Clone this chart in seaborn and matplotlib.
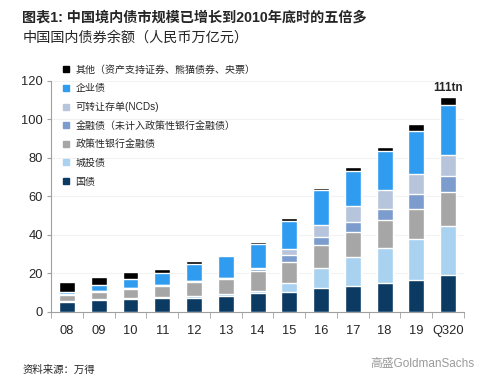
import numpy as np
import pandas as pd
import matplotlib
matplotlib.use('Agg')
import matplotlib.pyplot as plt
from matplotlib.lines import Line2D
import seaborn as sns

years = ['08', '09', '10', '11', '12', '13', '14', '15', '16', '17', '18', '19', 'Q320']

# 人民币万亿元, bottom to top
guozhai = [5.2, 6.1, 6.6, 7.1, 7.5, 8.5, 9.6, 10.6, 12.2, 13.5, 14.8, 16.7, 19.0]
chengtou = [0.3, 0.4, 0.5, 0.7, 0.7, 0.9, 1.2, 4.7, 10.7, 14.8, 18.2, 21.3, 25.6]
zhengce = [3.3, 4.0, 4.9, 5.6, 7.3, 7.8, 10.5, 10.9, 11.7, 13.2, 14.6, 15.6, 17.7]
jinrong = [0.3, 0.3, 0.5, 0.5, 0.5, 0.5, 0.8, 3.3, 4.3, 5.2, 5.9, 7.5, 8.4]
ncd = [0.0, 0.0, 0.0, 0.0, 0.0, 0.0, 0.6, 3.3, 6.4, 8.4, 9.9, 10.6, 10.9]
qiye = [1.1, 3.3, 4.5, 6.4, 8.9, 11.3, 12.6, 14.6, 17.9, 18.3, 20.3, 22.1, 26.1]
qita = [5.6, 4.0, 3.9, 1.9, 1.4, 0.5, 0.8, 1.2, 1.4, 1.8, 2.2, 3.8, 4.0]

names = ['国债', '城投债', '政策性银行金融债', '金融债（未计入政策性银行金融债）',
         '可转让存单(NCDs)', '企业债', '其他（资产支持证券、熊猫债券、央票）']
colors = ['#0b3a63', '#a9d1f0', '#a6a6a6', '#7b9ccc', '#b6c4dc', '#2f9cef', '#000000']
series = [guozhai, chengtou, zhengce, jinrong, ncd, qiye, qita]

sns.set_style('white')
plt.rcParams['font.family'] = ['Liberation Sans', 'Noto Sans CJK SC', 'DejaVu Sans']

fig = plt.figure(figsize=(4.92, 3.89), dpi=100)
ax = fig.add_axes([0.104, 0.198, 0.839, 0.594])

cum = np.cumsum(np.array(series), axis=0)
df = pd.DataFrame(cum.T, columns=names)
df['year'] = years

# draw from the top layer down so each lower layer covers the one above it
for i in range(len(names) - 1, -1, -1):
    sns.barplot(data=df, x='year', y=names[i], color=colors[i], width=0.5,
                saturation=1, ax=ax, zorder=3)

ax.set_xlim(-0.5, len(years) - 0.5)
ax.set_ylim(0, 120)
ax.set_yticks(range(0, 121, 20))
ax.set_xlabel('')
ax.set_ylabel('')
ax.yaxis.grid(True, color='#f2f2f2', linewidth=0.8, zorder=0)
ax.xaxis.grid(False)
for s in ['top', 'right']:
    ax.spines[s].set_visible(False)
for s in ['left', 'bottom']:
    ax.spines[s].set_color('#a0a0a0')
    ax.spines[s].set_linewidth(0.8)
ax.tick_params(axis='y', which='major', left=True, length=3, color='#a0a0a0',
               labelsize=9.3, pad=3)
ax.tick_params(axis='x', which='major', bottom=False, labelsize=9.3, pad=6)
ax.set_xticks(np.arange(-0.5, len(years), 1), minor=True)
ax.tick_params(axis='x', which='minor', bottom=True, length=4, color='#a0a0a0')

ax.text(len(years) - 1, cum[-1, -1] + 1.5, '111tn', ha='center', va='bottom',
        fontsize=8.5, fontweight='bold')

handles = [Line2D([], [], marker='s', linestyle='', markersize=4.5,
                  markerfacecolor=colors[i], markeredgecolor=colors[i])
           for i in range(len(names) - 1, -1, -1)]
ax.legend(handles, names[::-1], loc='upper left', bbox_to_anchor=(0.115, 0.847),
          bbox_transform=fig.transFigure, frameon=False, fontsize=7.2,
          handletextpad=0.6, labelspacing=0.86, handlelength=0.8, borderpad=0)

fig.text(0.045, 0.955, '图表1: 中国境内债市规模已增长到2010年底时的五倍多',
         fontsize=10.2, fontweight='bold', va='center')
fig.text(0.045, 0.902, '中国国内债券余额（人民币万亿元）', fontsize=10.2, va='center')
fig.text(0.045, 0.048, '资料来源：万得', fontsize=7.5, va='center')
fig.text(0.965, 0.064, '高盛GoldmanSachs', fontsize=8.5, va='center', ha='right',
         color='#9a9a9a')

fig.savefig('out.png', dpi=100)
